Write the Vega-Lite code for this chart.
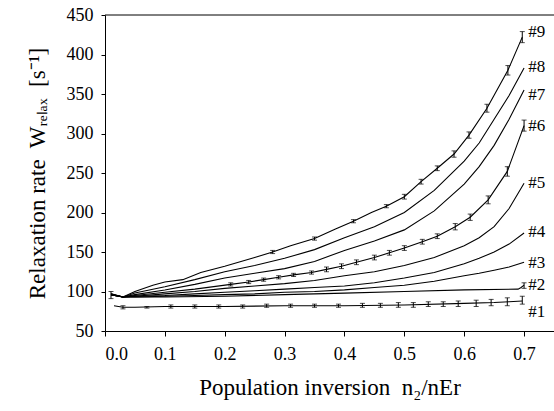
{
  "$schema": "https://vega.github.io/schema/vega-lite/v6.json",
  "autosize": "none",
  "width": 449,
  "height": 316,
  "padding": {"left": 105, "top": 15, "right": 0, "bottom": 80},
  "background": "white",
  "config": {
    "view": {"stroke": null},
    "font": "Liberation Serif",
    "axis": {"labelFont": "Liberation Serif", "titleFont": "Liberation Serif", "labelColor": "black", "titleColor": "black", "domainColor": "black", "tickColor": "black", "grid": false, "titleFontWeight": "normal", "labelFontSize": 18, "titleFontSize": 23, "labelOverlap": false}
  },
  "datasets": {
    "curves": [
      {"s": "#9", "x": 0.01, "y": 97}, {"s": "#9", "x": 0.03, "y": 93}, {"s": "#9", "x": 0.05, "y": 100}, {"s": "#9", "x": 0.08, "y": 108}, {"s": "#9", "x": 0.1, "y": 112}, {"s": "#9", "x": 0.13, "y": 115}, {"s": "#9", "x": 0.16, "y": 124}, {"s": "#9", "x": 0.2, "y": 132}, {"s": "#9", "x": 0.25, "y": 143}, {"s": "#9", "x": 0.28, "y": 150}, {"s": "#9", "x": 0.31, "y": 158}, {"s": "#9", "x": 0.35, "y": 167}, {"s": "#9", "x": 0.385, "y": 179}, {"s": "#9", "x": 0.415, "y": 189}, {"s": "#9", "x": 0.445, "y": 200}, {"s": "#9", "x": 0.47, "y": 208}, {"s": "#9", "x": 0.5, "y": 220}, {"s": "#9", "x": 0.528, "y": 239}, {"s": "#9", "x": 0.555, "y": 256}, {"s": "#9", "x": 0.583, "y": 274}, {"s": "#9", "x": 0.608, "y": 298}, {"s": "#9", "x": 0.638, "y": 332}, {"s": "#9", "x": 0.673, "y": 380}, {"s": "#9", "x": 0.697, "y": 422},

      {"s": "#8", "x": 0.01, "y": 97}, {"s": "#8", "x": 0.03, "y": 93}, {"s": "#8", "x": 0.05, "y": 98}, {"s": "#8", "x": 0.1, "y": 106}, {"s": "#8", "x": 0.15, "y": 115}, {"s": "#8", "x": 0.2, "y": 125}, {"s": "#8", "x": 0.25, "y": 133}, {"s": "#8", "x": 0.3, "y": 142}, {"s": "#8", "x": 0.35, "y": 153}, {"s": "#8", "x": 0.4, "y": 168}, {"s": "#8", "x": 0.45, "y": 182}, {"s": "#8", "x": 0.5, "y": 200}, {"s": "#8", "x": 0.55, "y": 228}, {"s": "#8", "x": 0.6, "y": 265}, {"s": "#8", "x": 0.625, "y": 288}, {"s": "#8", "x": 0.65, "y": 318}, {"s": "#8", "x": 0.675, "y": 348}, {"s": "#8", "x": 0.7, "y": 383},

      {"s": "#7", "x": 0.01, "y": 96}, {"s": "#7", "x": 0.03, "y": 93}, {"s": "#7", "x": 0.05, "y": 96}, {"s": "#7", "x": 0.1, "y": 102}, {"s": "#7", "x": 0.15, "y": 109}, {"s": "#7", "x": 0.2, "y": 117}, {"s": "#7", "x": 0.25, "y": 123}, {"s": "#7", "x": 0.3, "y": 129}, {"s": "#7", "x": 0.35, "y": 138}, {"s": "#7", "x": 0.4, "y": 152}, {"s": "#7", "x": 0.45, "y": 164}, {"s": "#7", "x": 0.5, "y": 178}, {"s": "#7", "x": 0.55, "y": 202}, {"s": "#7", "x": 0.6, "y": 236}, {"s": "#7", "x": 0.625, "y": 258}, {"s": "#7", "x": 0.65, "y": 285}, {"s": "#7", "x": 0.675, "y": 318}, {"s": "#7", "x": 0.7, "y": 355},

      {"s": "#6", "x": 0.01, "y": 96}, {"s": "#6", "x": 0.03, "y": 93}, {"s": "#6", "x": 0.05, "y": 95}, {"s": "#6", "x": 0.1, "y": 99}, {"s": "#6", "x": 0.15, "y": 103}, {"s": "#6", "x": 0.21, "y": 109}, {"s": "#6", "x": 0.24, "y": 112}, {"s": "#6", "x": 0.265, "y": 115}, {"s": "#6", "x": 0.29, "y": 118}, {"s": "#6", "x": 0.315, "y": 121}, {"s": "#6", "x": 0.345, "y": 124}, {"s": "#6", "x": 0.37, "y": 128}, {"s": "#6", "x": 0.395, "y": 132}, {"s": "#6", "x": 0.42, "y": 137}, {"s": "#6", "x": 0.45, "y": 143}, {"s": "#6", "x": 0.475, "y": 149}, {"s": "#6", "x": 0.5, "y": 155}, {"s": "#6", "x": 0.53, "y": 163}, {"s": "#6", "x": 0.555, "y": 170}, {"s": "#6", "x": 0.585, "y": 182}, {"s": "#6", "x": 0.61, "y": 194}, {"s": "#6", "x": 0.64, "y": 216}, {"s": "#6", "x": 0.672, "y": 252}, {"s": "#6", "x": 0.7, "y": 310},

      {"s": "#5", "x": 0.01, "y": 96}, {"s": "#5", "x": 0.03, "y": 93}, {"s": "#5", "x": 0.05, "y": 94}, {"s": "#5", "x": 0.1, "y": 97}, {"s": "#5", "x": 0.15, "y": 100}, {"s": "#5", "x": 0.2, "y": 104}, {"s": "#5", "x": 0.25, "y": 107}, {"s": "#5", "x": 0.3, "y": 110}, {"s": "#5", "x": 0.35, "y": 114}, {"s": "#5", "x": 0.4, "y": 120}, {"s": "#5", "x": 0.45, "y": 125}, {"s": "#5", "x": 0.5, "y": 133}, {"s": "#5", "x": 0.55, "y": 143}, {"s": "#5", "x": 0.6, "y": 158}, {"s": "#5", "x": 0.625, "y": 168}, {"s": "#5", "x": 0.65, "y": 182}, {"s": "#5", "x": 0.675, "y": 205}, {"s": "#5", "x": 0.7, "y": 237},

      {"s": "#4", "x": 0.01, "y": 96}, {"s": "#4", "x": 0.03, "y": 93}, {"s": "#4", "x": 0.05, "y": 94}, {"s": "#4", "x": 0.1, "y": 95}, {"s": "#4", "x": 0.15, "y": 97}, {"s": "#4", "x": 0.2, "y": 99}, {"s": "#4", "x": 0.25, "y": 101}, {"s": "#4", "x": 0.3, "y": 103}, {"s": "#4", "x": 0.35, "y": 105}, {"s": "#4", "x": 0.4, "y": 107}, {"s": "#4", "x": 0.45, "y": 111}, {"s": "#4", "x": 0.5, "y": 117}, {"s": "#4", "x": 0.55, "y": 124}, {"s": "#4", "x": 0.6, "y": 135}, {"s": "#4", "x": 0.625, "y": 142}, {"s": "#4", "x": 0.65, "y": 150}, {"s": "#4", "x": 0.675, "y": 160}, {"s": "#4", "x": 0.7, "y": 174},

      {"s": "#3", "x": 0.01, "y": 96}, {"s": "#3", "x": 0.03, "y": 93}, {"s": "#3", "x": 0.05, "y": 93}, {"s": "#3", "x": 0.1, "y": 94}, {"s": "#3", "x": 0.15, "y": 95}, {"s": "#3", "x": 0.2, "y": 96}, {"s": "#3", "x": 0.25, "y": 97}, {"s": "#3", "x": 0.3, "y": 99}, {"s": "#3", "x": 0.35, "y": 100}, {"s": "#3", "x": 0.4, "y": 102}, {"s": "#3", "x": 0.45, "y": 105}, {"s": "#3", "x": 0.5, "y": 108}, {"s": "#3", "x": 0.55, "y": 113}, {"s": "#3", "x": 0.6, "y": 120}, {"s": "#3", "x": 0.625, "y": 123}, {"s": "#3", "x": 0.65, "y": 127}, {"s": "#3", "x": 0.675, "y": 131}, {"s": "#3", "x": 0.7, "y": 137},

      {"s": "#2", "x": 0.01, "y": 96}, {"s": "#2", "x": 0.03, "y": 93}, {"s": "#2", "x": 0.05, "y": 93}, {"s": "#2", "x": 0.1, "y": 93}, {"s": "#2", "x": 0.2, "y": 94}, {"s": "#2", "x": 0.3, "y": 96}, {"s": "#2", "x": 0.4, "y": 98}, {"s": "#2", "x": 0.5, "y": 100}, {"s": "#2", "x": 0.6, "y": 102}, {"s": "#2", "x": 0.69, "y": 103}, {"s": "#2", "x": 0.695, "y": 105}, {"s": "#2", "x": 0.7, "y": 108},

      {"s": "#1", "x": 0.015, "y": 82}, {"s": "#1", "x": 0.03, "y": 80}, {"s": "#1", "x": 0.05, "y": 80}, {"s": "#1", "x": 0.1, "y": 81}, {"s": "#1", "x": 0.2, "y": 81}, {"s": "#1", "x": 0.3, "y": 82}, {"s": "#1", "x": 0.4, "y": 82}, {"s": "#1", "x": 0.5, "y": 83}, {"s": "#1", "x": 0.6, "y": 85}, {"s": "#1", "x": 0.65, "y": 86}, {"s": "#1", "x": 0.675, "y": 87}, {"s": "#1", "x": 0.697, "y": 88}
    ],
    "err": [
      {"s": "#9", "x": 0.01, "y": 91, "hi": 100},
      {"s": "#9", "x": 0.28, "y": 148, "hi": 152}, {"s": "#9", "x": 0.35, "y": 165, "hi": 169}, {"s": "#9", "x": 0.415, "y": 187, "hi": 191}, {"s": "#9", "x": 0.47, "y": 206, "hi": 210}, {"s": "#9", "x": 0.5, "y": 217, "hi": 223}, {"s": "#9", "x": 0.528, "y": 236, "hi": 242}, {"s": "#9", "x": 0.555, "y": 253, "hi": 259}, {"s": "#9", "x": 0.583, "y": 270, "hi": 278}, {"s": "#9", "x": 0.608, "y": 294, "hi": 302}, {"s": "#9", "x": 0.638, "y": 327, "hi": 337}, {"s": "#9", "x": 0.673, "y": 374, "hi": 386}, {"s": "#9", "x": 0.697, "y": 415, "hi": 429},

      {"s": "#6", "x": 0.21, "y": 107, "hi": 111}, {"s": "#6", "x": 0.24, "y": 110, "hi": 114}, {"s": "#6", "x": 0.265, "y": 113, "hi": 117}, {"s": "#6", "x": 0.29, "y": 116, "hi": 120}, {"s": "#6", "x": 0.315, "y": 119, "hi": 123}, {"s": "#6", "x": 0.345, "y": 122, "hi": 126}, {"s": "#6", "x": 0.37, "y": 125, "hi": 131}, {"s": "#6", "x": 0.395, "y": 129, "hi": 135}, {"s": "#6", "x": 0.42, "y": 134, "hi": 140}, {"s": "#6", "x": 0.45, "y": 140, "hi": 146}, {"s": "#6", "x": 0.475, "y": 146, "hi": 152}, {"s": "#6", "x": 0.5, "y": 152, "hi": 158}, {"s": "#6", "x": 0.53, "y": 160, "hi": 166}, {"s": "#6", "x": 0.555, "y": 167, "hi": 173}, {"s": "#6", "x": 0.585, "y": 178, "hi": 186}, {"s": "#6", "x": 0.61, "y": 190, "hi": 198}, {"s": "#6", "x": 0.64, "y": 211, "hi": 221}, {"s": "#6", "x": 0.672, "y": 246, "hi": 258}, {"s": "#6", "x": 0.7, "y": 303, "hi": 317},

      {"s": "#1", "x": 0.03, "y": 78, "hi": 82}, {"s": "#1", "x": 0.07, "y": 79, "hi": 81}, {"s": "#1", "x": 0.11, "y": 79, "hi": 83}, {"s": "#1", "x": 0.15, "y": 79, "hi": 83}, {"s": "#1", "x": 0.19, "y": 79, "hi": 83}, {"s": "#1", "x": 0.23, "y": 79, "hi": 83}, {"s": "#1", "x": 0.27, "y": 80, "hi": 84}, {"s": "#1", "x": 0.31, "y": 80, "hi": 84}, {"s": "#1", "x": 0.35, "y": 80, "hi": 84}, {"s": "#1", "x": 0.39, "y": 80, "hi": 84}, {"s": "#1", "x": 0.43, "y": 80, "hi": 85}, {"s": "#1", "x": 0.46, "y": 80, "hi": 85}, {"s": "#1", "x": 0.49, "y": 80, "hi": 86}, {"s": "#1", "x": 0.515, "y": 80, "hi": 86}, {"s": "#1", "x": 0.54, "y": 81, "hi": 87}, {"s": "#1", "x": 0.565, "y": 81, "hi": 87}, {"s": "#1", "x": 0.59, "y": 81, "hi": 88}, {"s": "#1", "x": 0.62, "y": 81, "hi": 89}, {"s": "#1", "x": 0.645, "y": 82, "hi": 90}, {"s": "#1", "x": 0.672, "y": 82, "hi": 92}, {"s": "#1", "x": 0.697, "y": 84, "hi": 94},
      {"s": "#2", "x": 0.7, "y": 104, "hi": 111}
    ],
    "labels": [
      {"s": "#9", "x": 0.707, "y": 428}, {"s": "#8", "x": 0.707, "y": 384}, {"s": "#7", "x": 0.707, "y": 349}, {"s": "#6", "x": 0.707, "y": 310}, {"s": "#5", "x": 0.707, "y": 237}, {"s": "#4", "x": 0.707, "y": 175}, {"s": "#3", "x": 0.707, "y": 136}, {"s": "#2", "x": 0.707, "y": 108}, {"s": "#1", "x": 0.707, "y": 74}
    ],
    "frame": [{"x": 0, "x2": 0.75, "y": 450}]
  },
  "encoding": {
    "x": {"field": "x", "type": "quantitative", "scale": {"domain": [0, 0.75], "nice": false},
      "axis": {"values": [0, 0.1, 0.2, 0.3, 0.4, 0.5, 0.6, 0.7], "format": ".1f", "tickSize": 5, "labelPadding": 9, "title": "Population inversion\u00a0 n₂/nEr", "titlePadding": 13, "labelOverlap": false}},
    "y": {"field": "y", "type": "quantitative", "scale": {"domain": [50, 450], "nice": false},
      "axis": {"values": [50, 100, 150, 200, 250, 300, 350, 400, 450], "tickCount": 9, "tickSize": 4, "labelPadding": 8, "title": "Relaxation rate\u00a0 Wᵣₑₗₐₓ\u00a0 [s⁻¹]", "titlePadding": 17, "labelOverlap": false}}
  },
  "layer": [
    {
      "data": {"name": "curves"},
      "mark": {"type": "line", "color": "black", "strokeWidth": 1.1, "clip": true},
      "encoding": {
        "detail": {"field": "s"},
        "order": {"field": "x"}
      }
    },
    {
      "data": {"name": "err"},
      "mark": {"type": "errorbar", "ticks": {"size": 5, "color": "black"}, "rule": {"color": "black", "strokeWidth": 1}},
      "encoding": {
        "y2": {"field": "hi"},
        "detail": {"field": "s"}
      }
    },
    {
      "data": {"name": "labels"},
      "mark": {"type": "text", "align": "left", "baseline": "middle", "font": "Liberation Serif", "fontSize": 17, "color": "black"},
      "encoding": {
        "text": {"field": "s"}
      }
    },
    {
      "data": {"name": "frame"},
      "mark": {"type": "rule", "color": "black", "strokeWidth": 1},
      "encoding": {
        "x2": {"field": "x2"}
      }
    }
  ]
}
